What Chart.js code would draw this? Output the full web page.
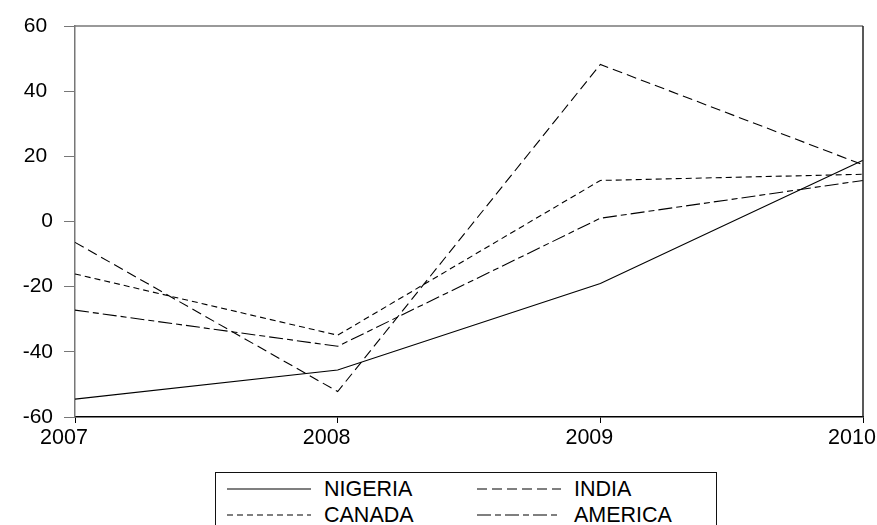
<!DOCTYPE html>
<html>
<head>
<meta charset="utf-8">
<script src="https://cdn.jsdelivr.net/npm/chart.js@4.4.1/dist/chart.umd.min.js"></script>
<style>
    html, body { margin: 0; padding: 0; background: #fff; overflow: hidden; }
    #wrap { position: relative; width: 877px; height: 525px; font-family: "Liberation Sans", Arial, sans-serif; }
    #chartBox { position: absolute; left: 0; top: 0; width: 877px; height: 470px; }
    #legend { position: absolute; left: 215px; top: 472px; width: 502px; height: 80px;
              border: 1.5px solid #111; box-sizing: border-box; }
    .item { position: absolute; display: flex; align-items: center; font-size: 21.5px; color: #000; height: 24px; }
    .item svg { margin-right: 13px; }
</style>
</head>
<body>
<div id="wrap">
    <div id="chartBox"><canvas id="lineChart"></canvas></div>
    <div id="legend"></div>
</div>
<script>
// ==========================================
// DATA
// ==========================================
const years = ['2007', '2008', '2009', '2010'];
const nigeria = [-54.5, -45.6, -19.0, 18.8];
const india = [-6.4, -52.2, 48.2, 17.4];
const canada = [-16.1, -34.9, 12.6, 14.5];
const america = [-27.2, -38.3, 1.0, 12.6];
const yTicks = [-60, -40, -20, 0, 20, 40, 60];

const series = [
    { label: 'NIGERIA', data: nigeria, dash: [] },
    { label: 'INDIA', data: india, dash: [10, 5] },
    { label: 'CANADA', data: canada, dash: [6, 4] },
    { label: 'AMERICA', data: america, dash: [14, 4, 6, 4] }
];

// Top + right border of the plot frame
const frameBorder = {
    id: 'frameBorder',
    afterDraw(chart) {
        const { ctx, chartArea: a } = chart;
        ctx.save();
        ctx.lineWidth = 1.5;
        ctx.strokeStyle = '#777';
        ctx.beginPath();
        ctx.moveTo(a.left, a.top);
        ctx.lineTo(a.right, a.top);
        ctx.stroke();
        ctx.strokeStyle = '#222';
        ctx.beginPath();
        ctx.moveTo(a.right, a.top);
        ctx.lineTo(a.right, a.bottom);
        ctx.stroke();
        ctx.restore();
    }
};

new Chart(document.getElementById('lineChart'), {
    type: 'line',
    data: {
        labels: years,
        datasets: series.map(s => ({
            label: s.label,
            data: s.data,
            borderColor: '#000',
            borderWidth: 1.1,
            borderDash: s.dash,
            pointRadius: 0,
            tension: 0,
            fill: false
        }))
    },
    options: {
        responsive: true,
        maintainAspectRatio: false,
        animation: false,
        layout: { padding: { top: 26, right: 14, left: 0, bottom: 0 } },
        plugins: { legend: { display: false }, tooltip: { enabled: false } },
        scales: {
            x: {
                offset: false,
                grid: { drawOnChartArea: false, drawTicks: true, tickLength: 6, color: '#000' },
                border: { display: true, color: '#000', width: 1.5 },
                ticks: {
                    color: '#000', font: { family: '"Liberation Sans", Arial', size: 21.5 },
                    labelOffset: -11, padding: 2, maxRotation: 0, autoSkip: false
                },
                afterFit(scale) {
                    scale.height = 53;
                    scale.paddingLeft = 0;
                    scale.paddingRight = 0;
                }
            },
            y: {
                min: -60, max: 60,
                afterBuildTicks(scale) { scale.ticks = yTicks.map(v => ({ value: v })); },
                grid: { drawOnChartArea: false, drawTicks: true, tickLength: 11, color: '#777' },
                border: { display: true, color: '#777', width: 1.5 },
                ticks: {
                    color: '#000', font: { family: '"Liberation Sans", Arial', size: 21 },
                    padding: 11,
                    callback: v => v > 0 ? v + ' ' : String(v)
                },
                afterFit(scale) {
                    scale.width = 75;
                    scale.paddingTop = 0;
                    scale.paddingBottom = 0;
                }
            }
        }
    },
    plugins: [frameBorder]
});

// ==========================================
// LEGEND (HTML)
// ==========================================
const legend = document.getElementById('legend');
const spots = [
    { left: 11, top: 4 },
    { left: 261, top: 4 },
    { left: 11, top: 30 },
    { left: 261, top: 30 }
];
series.forEach((s, i) => {
    const div = document.createElement('div');
    div.className = 'item';
    div.style.left = spots[i].left + 'px';
    div.style.top = spots[i].top + 'px';
    div.innerHTML =
        `<svg width="84" height="4"><line x1="0" y1="2" x2="84" y2="2" stroke="#000" stroke-width="1.2"` +
        (s.dash.length ? ` stroke-dasharray="${s.dash.join(',')}"` : '') + `/></svg>` +
        `<span>${s.label}</span>`;
    legend.appendChild(div);
});
</script>
</body>
</html>
